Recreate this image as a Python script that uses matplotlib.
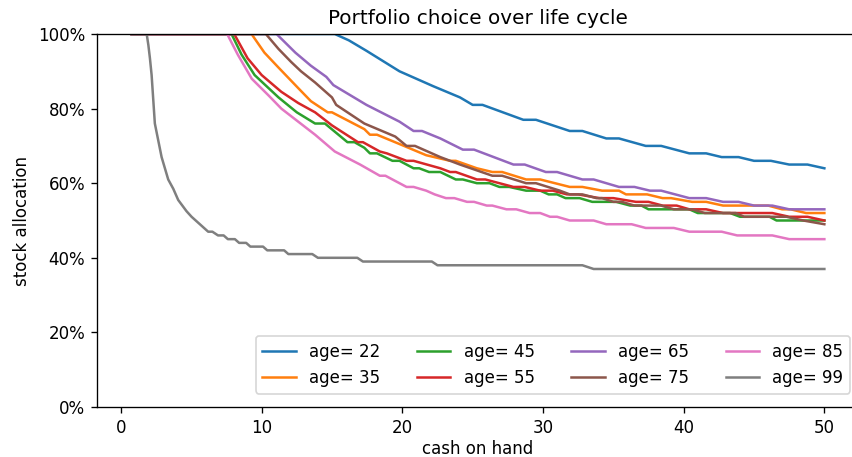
#! /usr/bin/env python3
# -*- coding: utf-8 -*-

'''
Portfolio choice over the life cycle: stock share as a function of cash on hand,
one line per age. Values are read off the reference picture (percent).
'''

import matplotlib
matplotlib.use('Agg')
import matplotlib.pyplot as plt
from matplotlib.ticker import PercentFormatter


ages = [22, 35, 45, 55, 65, 75, 85, 99]

# age 22
cash_22 = [0.76, 15.2, 16.2, 17.45, 19.8, 22.2, 24.1, 25.0, 25.7, 28.6, 29.5, 31.9, 32.8,
           34.5, 35.4, 37.3, 38.4, 40.4, 41.6, 42.7, 43.9, 45.0, 46.2, 47.5, 48.8, 50.0]
share_22 = [100, 100, 98.3, 95.5, 90, 86, 83, 81, 81, 77, 77, 74, 74,
            72, 72, 70, 70, 68, 68, 67, 67, 66, 66, 65, 65, 64]

# age 35
cash_35 = [0.76, 9.28, 10.2, 11.2, 12.6, 13.5, 14.7, 15.0, 17.3, 17.7, 18.2, 19.8, 21.7,
           23.4, 23.8, 25.3, 26.4, 27.1, 28.8, 29.8, 31.9, 32.8, 34.2, 35.4, 35.9, 37.4,
           38.5, 39.1, 40.6, 41.6, 42.8, 46.0, 47.0, 47.6, 48.7, 50.0]
share_35 = [100, 100, 95, 91, 85.5, 82, 79, 79, 74.5, 73, 73, 70.5, 67.5,
            66, 66, 64, 63, 63, 61, 61, 59, 59, 58, 58, 57, 57,
            56, 56, 55, 55, 54, 54, 53, 53, 52, 52]

# age 45
cash_45 = [0.76, 7.86, 8.57, 9.5, 11.2, 12.5, 13.8, 14.5, 16.1, 16.6, 17.3, 17.7, 18.2,
           19.3, 19.8, 20.8, 21.2, 21.9, 22.7, 23.8, 24.3, 25.3, 26.2, 26.9, 27.6, 28.8,
           29.8, 30.4, 31.0, 31.6, 32.6, 33.5, 35.2, 36.2, 37.0, 37.5, 40.4, 41.0, 43.3,
           44.0, 46.1, 46.6, 50.0]
share_45 = [100, 100, 94.5, 89, 83, 79, 76, 76, 71, 71, 69.5, 68, 68,
            66, 66, 64, 64, 63, 63, 61, 61, 60, 60, 59, 59, 58,
            58, 57, 57, 56, 56, 55, 55, 54, 54, 53, 53, 52, 52,
            51, 51, 50, 50]

# age 55
cash_55 = [0.76, 8.05, 9.0, 10.0, 11.4, 12.6, 13.8, 15.0, 16.85, 17.2, 18.4, 18.9, 20.3,
           20.8, 22.7, 23.4, 23.8, 25.3, 25.9, 27.9, 28.7, 29.8, 30.7, 31.7, 32.5, 34.0,
           35.0, 36.6, 37.5, 38.5, 39.5, 40.4, 41.6, 42.8, 46.3, 47.5, 48.8, 50.0]
share_55 = [100, 100, 93.5, 89, 84.5, 81.5, 79, 75.5, 71, 71, 68.5, 68, 66,
            66, 64, 63, 63, 61, 61, 59, 59, 58, 58, 57, 57, 56,
            56, 55, 55, 54, 54, 53, 53, 52, 52, 51, 51, 50]

# age 65
cash_65 = [0.76, 11.06, 12.4, 13.5, 14.6, 15.1, 17.45, 19.8, 20.8, 21.4, 22.7, 24.3, 25.1,
           27.9, 28.7, 30.2, 31.0, 32.8, 33.6, 35.4, 36.5, 37.6, 38.4, 40.4, 41.6, 42.8,
           43.9, 45.0, 46.3, 47.5, 50.0]
share_65 = [100, 100, 95, 91.5, 88.5, 86.3, 81, 76.5, 74, 74, 72, 69, 69,
            65, 65, 63, 63, 61, 61, 59, 59, 58, 58, 56, 56, 55,
            55, 54, 54, 53, 53]

# age 75
cash_75 = [0.76, 10.3, 11.2, 12.1, 12.8, 13.8, 15.0, 15.3, 17.3, 19.5, 20.3, 20.9, 22.7,
           24.1, 26.4, 27.1, 28.8, 29.5, 31.2, 31.9, 32.8, 33.8, 34.2, 35.0, 35.6, 36.5,
           38.4, 39.3, 40.6, 41.5, 43.7, 44.3, 47.3, 48.5, 50.0]
share_75 = [100, 100, 96, 92.5, 90, 87, 83, 81, 76, 72.5, 70, 70, 67,
            65, 62, 62, 60, 60, 58, 57, 57, 56, 56, 55, 55, 54,
            54, 53, 53, 52, 52, 51, 51, 50, 49]

# age 85
cash_85 = [0.76, 7.55, 8.3, 9.3, 10.5, 11.4, 13.8, 15.2, 17.0, 18.4, 18.8, 20.3, 20.8,
           21.7, 22.3, 23.1, 23.7, 24.6, 25.1, 26.0, 26.4, 27.4, 28.1, 29.05, 29.8, 30.5,
           31.0, 31.9, 33.6, 34.5, 36.3, 37.3, 39.3, 40.4, 42.7, 43.8, 46.3, 47.5, 50.0]
share_85 = [100, 100, 94.5, 88, 83.5, 80, 73, 68.5, 65, 62, 62, 59, 59,
            58, 57, 56, 56, 55, 55, 54, 54, 53, 53, 52, 52, 51,
            51, 50, 50, 49, 49, 48, 48, 47, 47, 46, 46, 45, 45]

# age 99
cash_99 = [0.76, 1.83, 1.95, 2.06, 2.18, 2.41, 2.89, 3.36, 3.72, 4.07, 4.66, 5.02, 5.61,
           6.2, 6.5, 6.9, 7.3, 7.6, 8.1, 8.4, 8.9, 9.2, 10.1, 10.4, 11.6, 11.9, 13.6,
           14.0, 16.8, 17.2, 22.1, 22.5, 32.8, 33.6, 50.0]
share_99 = [100, 100, 97, 93.5, 89, 76, 67, 61, 58.5, 55.5, 52.5, 51, 49,
            47, 47, 46, 46, 45, 45, 44, 44, 43, 43, 42, 42, 41, 41,
            40, 40, 39, 39, 38, 38, 37, 37]

cash = [cash_22, cash_35, cash_45, cash_55, cash_65, cash_75, cash_85, cash_99]
share = [share_22, share_35, share_45, share_55, share_65, share_75, share_85, share_99]


def main():
    dpi = 120
    fig = plt.figure(figsize=(852 / dpi, 457 / dpi), dpi=dpi, facecolor='white')
    # axes run past the right edge of the picture, as in the reference crop
    ax = fig.add_axes([97 / 852, 50 / 457, 762 / 852, 373 / 457])

    for age, x, y in zip(ages, cash, share):
        ax.plot(x, y, label='age= {}'.format(age))

    ax.set_ylim(0, 100)
    ax.yaxis.set_major_formatter(PercentFormatter(100, decimals=0))

    ax.set_title('Portfolio choice over life cycle')
    ax.set_xlabel('cash on hand', labelpad=2)
    ax.set_ylabel('stock allocation')

    ax.legend(loc='lower right', ncol=4, columnspacing=2.2,
              bbox_to_anchor=(0.999, 0.013))

    fig.savefig('out.png', dpi=dpi)


if __name__ == '__main__':
    main()
